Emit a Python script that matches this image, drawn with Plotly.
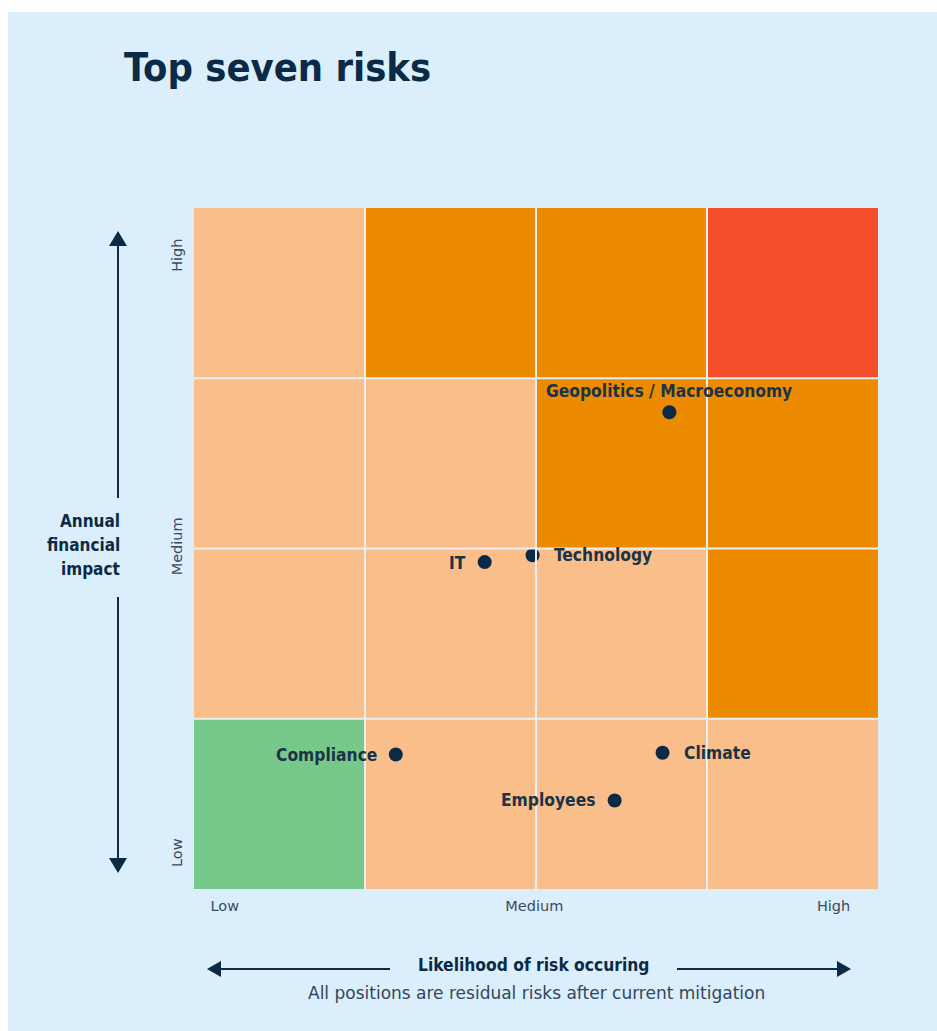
import plotly.graph_objects as go

# Risk matrix: 4 x 4 grid, likelihood (x) vs annual financial impact (y)
# Cell level per row, bottom row (Low impact) first: 0 green, 1 light orange, 2 orange, 3 red
cell_levels = [
    [0, 1, 1, 1],
    [1, 1, 1, 2],
    [1, 1, 2, 2],
    [1, 2, 2, 3],
]
level_colors = ["#77C98B", "#F9BE89", "#EC8B00", "#F44E2A"]

risk_names = ["Geopolitics / Macroeconomy", "Technology", "IT", "Compliance", "Climate", "Employees"]
risk_likelihood = [2.78, 1.98, 1.70, 1.18, 2.74, 2.46]
risk_impact = [2.80, 1.96, 1.92, 0.79, 0.80, 0.52]

x_tick_vals = [0.18, 1.99, 3.74]
x_tick_text = ["Low", "Medium", "High"]
y_tick_vals = [0.2, 2.0, 3.71]
y_tick_text = ["Low", "Medium", "High"]

NAVY = "#0B2A45"
BG = "#DAEEFB"
GRID = "#E9EFF3"
FONT = "DejaVu Sans Condensed"
FONT_WIDE = "DejaVu Sans"

W, H = 937, 1031
ML, MR, MT, MB = 194, 59, 208, 142
PW, PH = W - ML - MR, H - MT - MB


def px(x):
    return (x - ML) / PW


def py(y):
    return (H - MB - y) / PH


# Discrete colorscale for the level index
n = len(level_colors)
colorscale = []
for i, c in enumerate(level_colors):
    colorscale.append([i / n, c])
    colorscale.append([(i + 1) / n, c])

fig = go.Figure()

fig.add_trace(go.Heatmap(
    z=cell_levels,
    x=[0.5, 1.5, 2.5, 3.5],
    y=[0.5, 1.5, 2.5, 3.5],
    zmin=-0.5, zmax=n - 0.5,
    colorscale=colorscale,
    showscale=False,
    hoverinfo="skip",
))

fig.add_trace(go.Scatter(
    x=risk_likelihood, y=risk_impact,
    mode="markers",
    marker=dict(size=14, color=NAVY),
    text=risk_names,
    hoverinfo="text",
    showlegend=False,
))

shapes = []
# page background panel
shapes.append(dict(type="rect", xref="paper", yref="paper",
                   x0=px(8), x1=px(W + 5), y0=py(H + 5), y1=py(12),
                   fillcolor=BG, line=dict(width=0), layer="below"))
# interior grid lines between cells
for b in [1, 2, 3]:
    shapes.append(dict(type="line", xref="x", yref="y", x0=b, x1=b, y0=0, y1=4,
                       line=dict(color=GRID, width=2), layer="above"))
    shapes.append(dict(type="line", xref="x", yref="y", x0=0, x1=4, y0=b, y1=b,
                       line=dict(color=GRID, width=2), layer="above"))

# vertical impact arrow
ax_x = 118
for y0, y1 in [(244, 498), (597, 860)]:
    shapes.append(dict(type="line", xref="paper", yref="paper",
                       x0=px(ax_x), x1=px(ax_x), y0=py(y0), y1=py(y1),
                       line=dict(color=NAVY, width=2)))
shapes.append(dict(type="path", xref="paper", yref="paper",
                   path=f"M {px(ax_x)},{py(231)} L {px(ax_x - 9)},{py(246)} L {px(ax_x + 9)},{py(246)} Z",
                   fillcolor=NAVY, line=dict(width=0)))
shapes.append(dict(type="path", xref="paper", yref="paper",
                   path=f"M {px(ax_x)},{py(873)} L {px(ax_x - 9)},{py(858)} L {px(ax_x + 9)},{py(858)} Z",
                   fillcolor=NAVY, line=dict(width=0)))

# horizontal likelihood arrow
ay_y = 969
for x0, x1 in [(218, 390), (677, 840)]:
    shapes.append(dict(type="line", xref="paper", yref="paper",
                       x0=px(x0), x1=px(x1), y0=py(ay_y), y1=py(ay_y),
                       line=dict(color=NAVY, width=2)))
shapes.append(dict(type="path", xref="paper", yref="paper",
                   path=f"M {px(207)},{py(ay_y)} L {px(221)},{py(ay_y - 8)} L {px(221)},{py(ay_y + 8)} Z",
                   fillcolor=NAVY, line=dict(width=0)))
shapes.append(dict(type="path", xref="paper", yref="paper",
                   path=f"M {px(851)},{py(ay_y)} L {px(837)},{py(ay_y - 8)} L {px(837)},{py(ay_y + 8)} Z",
                   fillcolor=NAVY, line=dict(width=0)))

annotations = []
# point labels
label_place = {
    "Geopolitics / Macroeconomy": ("center", 0, 21),
    "Technology": ("left", 19, 0),
    "IT": ("right", -17, -1),
    "Compliance": ("right", -17, 0),
    "Climate": ("left", 19, 0),
    "Employees": ("right", -18, 0),
}
for name, lx, ly in zip(risk_names, risk_likelihood, risk_impact):
    anchor, dx, dy = label_place[name]
    annotations.append(dict(
        x=lx, y=ly, xref="x", yref="y", text=f"<b>{name}</b>", showarrow=False,
        xanchor=anchor, yanchor="middle", xshift=dx, yshift=dy,
        font=dict(family=FONT, size=17.3, color="#1C3347"),
    ))

# axis titles
for i, line in enumerate(["Annual", "financial", "impact"]):
    annotations.append(dict(
        x=px(122), y=py(521 + 24 * i), xref="paper", yref="paper",
        text=f"<b>{line}</b>", showarrow=False, xanchor="right", yanchor="middle",
        font=dict(family=FONT, size=17, color=NAVY),
    ))
annotations.append(dict(
    x=px(534), y=py(965), xref="paper", yref="paper",
    text="<b>Likelihood of risk occuring</b>", showarrow=False,
    xanchor="center", yanchor="middle",
    font=dict(family=FONT, size=17.3, color=NAVY),
))
annotations.append(dict(
    x=px(536), y=py(993), xref="paper", yref="paper",
    text="All positions are residual risks after current mitigation", showarrow=False,
    xanchor="center", yanchor="middle",
    font=dict(family=FONT_WIDE, size=17, color="#33475A"),
))

tick_font = dict(family=FONT_WIDE, size=14.5, color="#3B4B5C")

fig.update_layout(
    width=W, height=H,
    margin=dict(l=ML, r=MR, t=MT, b=MB),
    paper_bgcolor="white",
    plot_bgcolor=BG,
    title=dict(text="<b>Top seven risks</b>", xref="container", yref="container",
               x=124 / W, y=1 - 67 / H, xanchor="left", yanchor="middle",
               font=dict(family=FONT, size=39.5, color=NAVY)),
    xaxis=dict(range=[0, 4], showgrid=False, zeroline=False, showline=False,
               tickvals=x_tick_vals, ticktext=x_tick_text,
               ticks="outside", ticklen=4, tickcolor="rgba(0,0,0,0)",
               tickfont=tick_font, fixedrange=True),
    yaxis=dict(range=[0, 4], showgrid=False, zeroline=False, showline=False,
               tickvals=y_tick_vals, ticktext=y_tick_text, tickangle=-90,
               ticks="outside", ticklen=5, tickcolor="rgba(0,0,0,0)",
               tickfont=tick_font, fixedrange=True),
    shapes=shapes,
    annotations=annotations,
    showlegend=False,
)

fig.write_html("out.html")
